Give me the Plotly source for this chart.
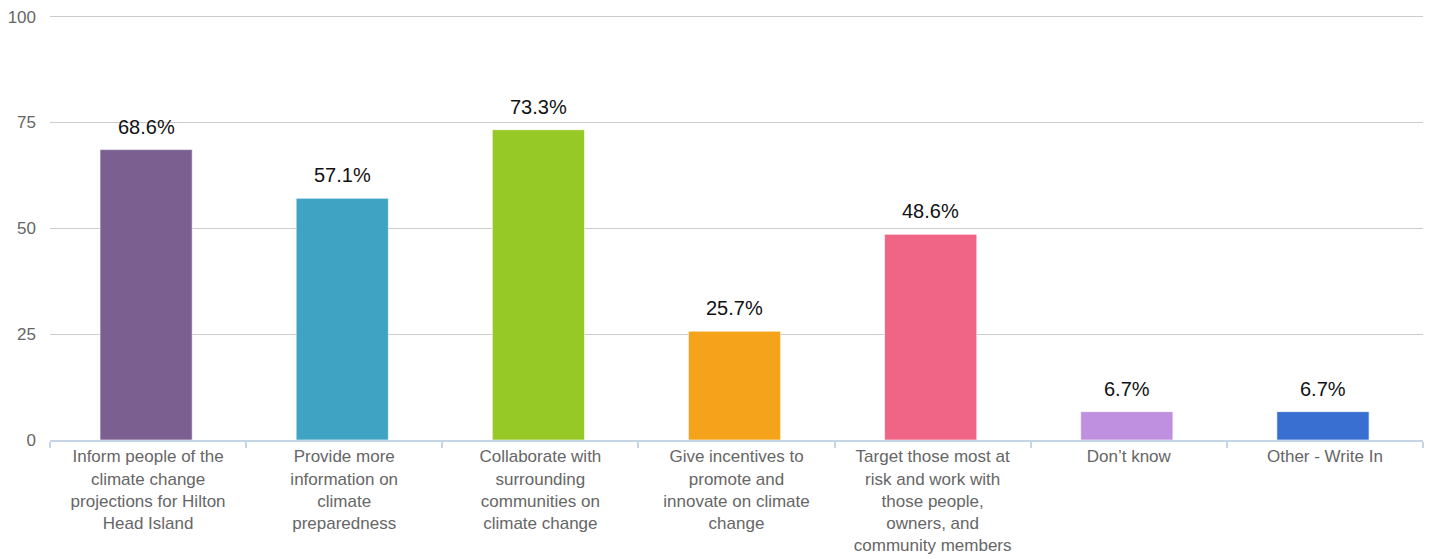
import plotly.graph_objects as go

categories = [
    "Inform people of the<br>climate change<br>projections for Hilton<br>Head Island",
    "Provide more<br>information on<br>climate<br>preparedness",
    "Collaborate with<br>surrounding<br>communities on<br>climate change",
    "Give incentives to<br>promote and<br>innovate on climate<br>change",
    "Target those most at<br>risk and work with<br>those people,<br>owners, and<br>community members",
    "Don’t know",
    "Other - Write In",
]
values = [68.6, 57.1, 73.3, 25.7, 48.6, 6.7, 6.7]
colors = ["#7B5F91", "#3FA3C3", "#97C926", "#F4A31B", "#F06486", "#BF90DF", "#3A6FD2"]
y_ticks = [0, 25, 50, 75, 100]

FONT = "Liberation Sans, Arial, Helvetica"

fig = go.Figure()
fig.add_trace(go.Bar(
    x=categories, y=values,
    marker=dict(color=colors, line=dict(color="rgba(255,255,255,0.6)", width=1)),
    width=0.47, offset=-0.245,
    hoverinfo="skip",
))
for c, v in zip(categories, values):
    fig.add_annotation(x=c, y=v, text=f"{v}%", showarrow=False, yanchor="bottom",
                       yshift=10, xshift=-2, font=dict(family=FONT, size=20, color="#111"))

fig.update_layout(
    width=1432, height=559,
    margin=dict(l=50, r=9, t=15, b=119),
    plot_bgcolor="white", paper_bgcolor="white",
    showlegend=False,
    font=dict(family=FONT, size=17, color="#666"),
)
fig.update_xaxes(
    showline=True, linecolor="#C5D5E5", linewidth=2,
    ticks="outside", tickson="boundaries", tickcolor="#C5D5E5", ticklen=6, tickwidth=2,
    tickfont=dict(size=17, color="#666"), tickangle=0, automargin=False,
)
fig.update_yaxes(
    range=[0, 100.4], tickvals=y_ticks, showgrid=True, gridcolor="#CCCCCC", gridwidth=1,
    zeroline=False, tickfont=dict(size=17, color="#666"), ticks="", automargin=False,
    ticklabelstandoff=13,
)
fig.write_html("out.html", config={"displayModeBar": False},
               post_script="document.body.style.margin='0';")
